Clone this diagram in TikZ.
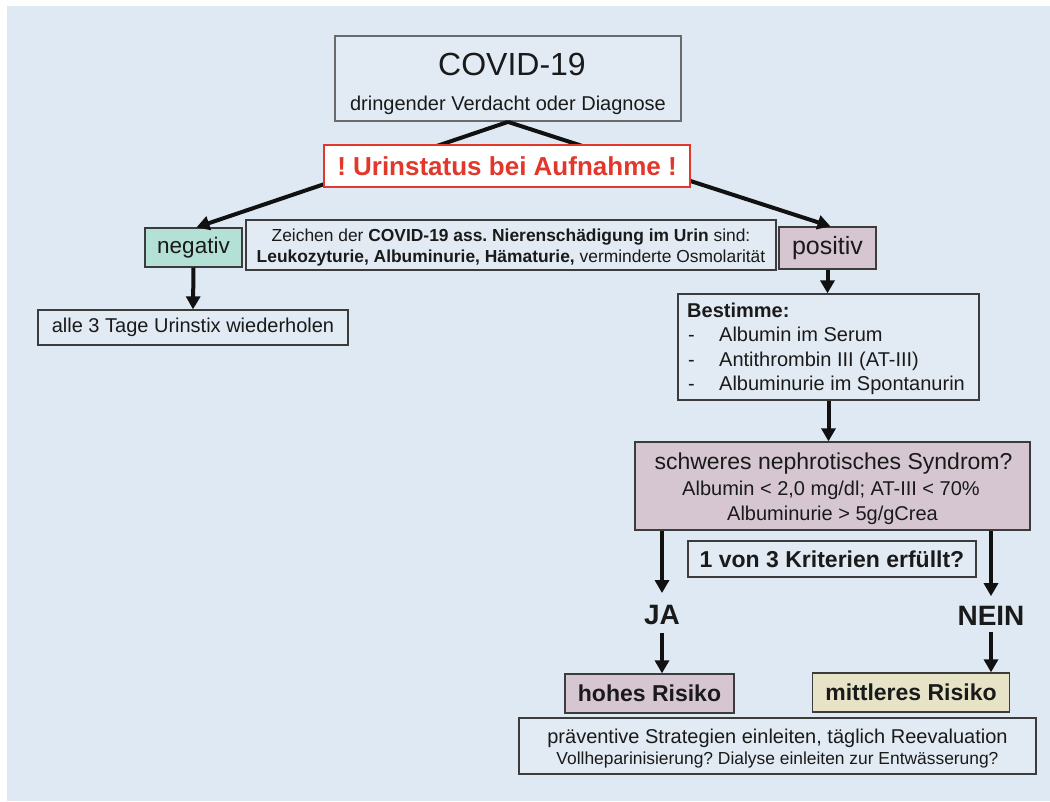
\documentclass[tikz,border=0pt]{standalone}
\usepackage{fontspec}
\setmainfont{Liberation Sans}
\usetikzlibrary{arrows.meta,calc}
\definecolor{bg}{HTML}{DFE9F3}
\definecolor{boxbg}{HTML}{E2EBF4}
\definecolor{mint}{HTML}{B3E1D5}
\definecolor{mauve}{HTML}{D5C6D1}
\definecolor{beige}{HTML}{E7E3C7}
\definecolor{redc}{HTML}{E2372B}
\definecolor{bordc}{HTML}{3C3C3C}
\definecolor{covbord}{HTML}{6B6B6B}
\definecolor{txt}{HTML}{1A1A1A}
\definecolor{arrc}{HTML}{111111}
\newcommand{\myfs}[2]{\fontsize{#1}{#2}\selectfont}
\frenchspacing
\begin{document}
\frenchspacing
\begin{tikzpicture}[x=1pt,y=-1pt,
  box/.style={draw=bordc, line width=1.3pt, fill=boxbg, inner sep=0pt, text=txt},
  arr/.style={draw=arrc, line width=4pt, -{Triangle[length=13pt,width=14pt]}},
  lbl/.style={anchor=base, text=txt, inner sep=0pt}]
\useasboundingbox (0,0) rectangle (1050,801);
\fill[bg] (7,6) rectangle (1050,801);

% top box
\node[box, line width=1.8pt, draw=covbord, minimum width=346pt, minimum height=85pt] (covid) at (508,78.5) {};
\node[lbl, font={\myfs{32}{36}}] (covidt) at (512,75) {COVID-19};
\node[lbl, font={\myfs{20}{24}}] (covids) at (508,110) {dringender Verdacht oder Diagnose};

% negativ / positiv
\node[box, fill=mint, minimum width=97pt, minimum height=39pt, font={\myfs{22.5}{27}}] (neg) at (193.5,247.5) {negativ};
\node[box, fill=mauve, minimum width=97pt, minimum height=42pt, font={\myfs{25}{30}}] (pos) at (827.5,248) {positiv};

\draw[arr] (covid.south) -- ([xshift=3pt]neg.north);
\draw[arr] (covid.south) -- ([xshift=3pt]pos.north);

% Urinstatus
\node[box, draw=redc, line width=2.2pt, fill=white, minimum width=366pt, minimum height=42pt, text=redc, font={\bfseries\myfs{26}{30}}] (urin) at (507,166) {! Urinstatus bei Aufnahme !};

% Zeichen box
\node[box, minimum width=530pt, minimum height=50pt] (zeich) at (511,245) {};
\node[lbl, font={\myfs{17.4}{21}}] (zeich1) at (511,241) {Zeichen der \textbf{COVID-19 ass. Nierenschädigung im Urin} sind:};
\node[lbl, font={\myfs{17.4}{21}}] (zeich2) at (511,262) {\textbf{Leukozyturie, Albuminurie, Hämaturie,} verminderte Osmolarität};

% alle 3 Tage
\node[box, minimum width=310pt, minimum height=35pt, font={\myfs{20}{24}}] (alle) at (193,327.5) {alle 3 Tage Urinstix wiederholen};
\draw[arr] (neg.south) -- (alle.north);

% Bestimme
\node[box, minimum width=301pt, minimum height=106pt] (best) at (828.5,347) {};
\node[lbl, anchor=base west, font={\bfseries\myfs{20}{24}}] (b0) at (687,317) {Bestimme:};
\node[lbl, anchor=base west, font={\myfs{20}{24}}] (d1) at (688,341.5) {-};
\node[lbl, anchor=base west, font={\myfs{20}{24}}] (d2) at (688,366) {-};
\node[lbl, anchor=base west, font={\myfs{20}{24}}] (d3) at (688,390.5) {-};
\node[lbl, anchor=base west, font={\myfs{20}{24}}] (b1) at (719,341.5) {Albumin im Serum};
\node[lbl, anchor=base west, font={\myfs{20}{24}}] (b2) at (719,366) {Antithrombin III (AT-III)};
\node[lbl, anchor=base west, font={\myfs{20}{24}}] (b3) at (719,390.5) {Albuminurie im Spontanurin};
\draw[arr] (pos.south) -- (pos.south |- best.north);

% schweres nephrotisches Syndrom
\node[box, fill=mauve, minimum width=395pt, minimum height=88pt] (schw) at (832.5,486) {};
\node[lbl, font={\myfs{23}{27}}] (s1) at (833.5,469) {schweres nephrotisches Syndrom?};
\node[lbl, font={\myfs{20}{24}}] (s2) at (831,495) {Albumin < 2,0 mg/dl; AT-III < 70\%};
\node[lbl, font={\myfs{20}{24}}] (s3) at (832.5,520) {Albuminurie > 5g/gCrea};
\draw[arr] (best.south) -- (best.south |- schw.north);

% Kriterien
\node[box, minimum width=288pt, minimum height=36pt, font={\bfseries\myfs{23}{27}}] (krit) at (832,559) {1 von 3 Kriterien erfüllt?};

% JA / NEIN
\node[inner sep=0pt, text=txt, font={\bfseries\myfs{28}{32}}] (ja) at (662,615) {JA};
\node[inner sep=0pt, text=txt, font={\bfseries\myfs{28}{32}}] (nein) at (991,616) {NEIN};

% Risiko boxes
\node[box, fill=mauve, minimum width=169pt, minimum height=39pt, font={\bfseries\myfs{23}{27}}] (hohes) at (649.5,693.5) {hohes Risiko};
\node[box, fill=beige, minimum width=197pt, minimum height=39pt, font={\bfseries\myfs{23}{27}}] (mitt) at (911,692.5) {mittleres Risiko};

\draw[arr] (schw.south -| ja.north) -- ([yshift=12pt]ja.north);
\draw[arr] ([yshift=-8pt]ja.south) -- (ja.south |- hohes.north);
\draw[arr] (schw.south -| nein.north) -- ([yshift=10pt]nein.north);
\draw[arr] ([yshift=-6pt]nein.south) -- (nein.south |- mitt.north);

% bottom box
\node[box, minimum width=517pt, minimum height=56pt] (bot) at (777.5,746) {};
\node[lbl, font={\myfs{20}{24}}] (bot1) at (777.5,743) {präventive Strategien einleiten, täglich Reevaluation};
\node[lbl, font={\myfs{17.4}{21}}] (bot2) at (777.5,764) {Vollheparinisierung? Dialyse einleiten zur Entwässerung?};
\end{tikzpicture}
\end{document}
